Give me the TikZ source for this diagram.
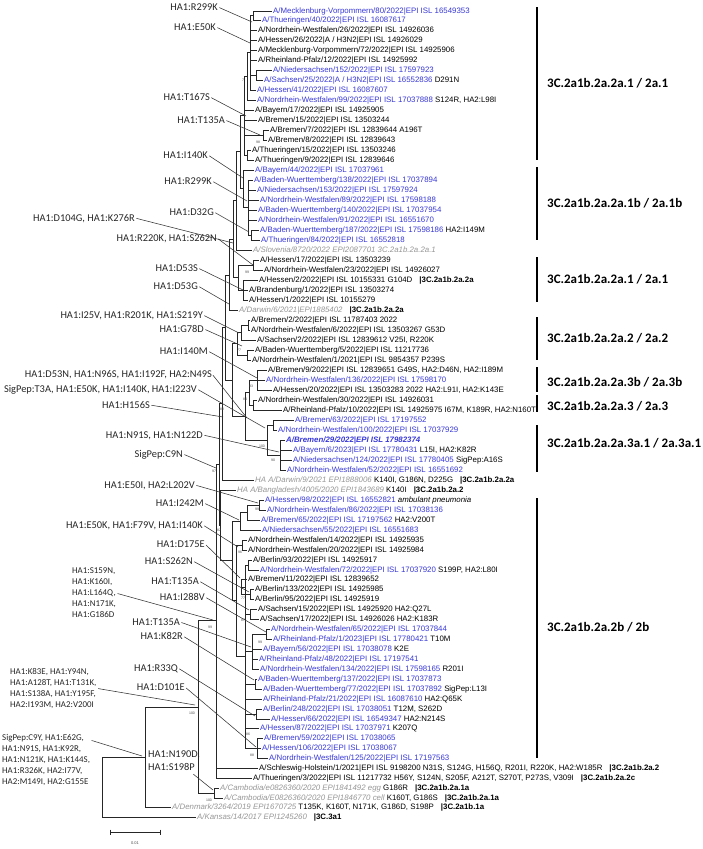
\documentclass[tikz,border=0pt]{standalone}
\usepackage{fontspec}
\setmainfont{Liberation Sans}
\newfontfamily\carlito{Carlito}
\definecolor{tipblue}{RGB}{55,55,215}
\definecolor{tipgray}{RGB}{150,150,150}
\newcommand{\TipB}[1]{\textcolor{tipblue}{#1}}
\newcommand{\TipG}[1]{\textcolor{tipgray}{\itshape #1}}
\newcommand{\TipC}[1]{\hspace{7pt}\textbf{#1}}
\begin{document}
\begin{tikzpicture}[x=1pt,y=-1pt,
  leaf/.style={anchor=west, xshift=-1.5pt, inner xsep=1.5pt, inner ysep=0pt, text height=5.7pt, text depth=0pt, font=\fontsize{7.86}{9}\selectfont},
  mutlab/.style={anchor=east, inner sep=0pt, text height=6.7pt, text depth=0pt, font=\carlito\fontsize{10.4}{12}\selectfont, text=black!85},
  mutblock/.style={anchor=north west, align=left, inner sep=0pt, font=\carlito\fontsize{8.9}{11}\selectfont, text=black!85},
  mutbig/.style={anchor=north west, align=left, inner sep=0pt, font=\carlito\fontsize{10.4}{13}\selectfont, text=black!85},
  cladelab/.style={anchor=west, inner sep=0pt, font=\carlito\bfseries\fontsize{13}{15}\selectfont},
  cladebar/.style={line width=2.2pt},
  treeline/.style={line width=0.7pt, draw=black!85},
  ptrline/.style={line width=0.55pt, draw=black!80, shorten <=1.5pt},
  bsval/.style={inner sep=0pt, font=\fontsize{3.5}{4}\selectfont, text=black!70}
]
\useasboundingbox (0,0) rectangle (702,849);

% ---------------- tips ----------------
\node[leaf] (t1) at (273,11) {\TipB{A/Mecklenburg-Vorpommern/80/2022|EPI ISL 16549353}};
\node[leaf] (t2) at (262,20) {\TipB{A/Thueringen/40/2022|EPI ISL 16087617}};
\node[leaf] (t3) at (258,30) {A/Nordrhein-Westfalen/26/2022|EPI ISL 14926036};
\node[leaf] (t4) at (258,40) {A/Hessen/26/2022|A / H3N2|EPI ISL 14926029};
\node[leaf] (t5) at (258,50) {A/Mecklenburg-Vorpommern/72/2022|EPI ISL 14925906};
\node[leaf] (t6) at (258,60) {A/Rheinland-Pfalz/12/2022|EPI ISL 14925992};
\node[leaf] (t7) at (273,70) {\TipB{A/Niedersachsen/152/2022|EPI ISL 17597923}};
\node[leaf] (t8) at (264,80) {\TipB{A/Sachsen/25/2022|A / H3N2|EPI ISL 16552836} D291N};
\node[leaf] (t9) at (257,90) {\TipB{A/Hessen/41/2022|EPI ISL 16087607}};
\node[leaf] (t10) at (257,100) {\TipB{A/Nordrhein-Westfalen/99/2022|EPI ISL 17037888} S124R, HA2:L98I};
\node[leaf] (t11) at (255,110) {A/Bayern/17/2022|EPI ISL 14925905};
\node[leaf] (t12) at (258,120) {A/Bremen/15/2022|EPI ISL 13503244};
\node[leaf] (t13) at (270,130) {A/Bremen/7/2022|EPI ISL 12839644 A196T};
\node[leaf] (t14) at (268,140) {A/Bremen/8/2022|EPI ISL 12839643};
\node[leaf] (t15) at (252,150) {A/Thueringen/15/2022|EPI ISL 13503246};
\node[leaf] (t16) at (255,160) {A/Thueringen/9/2022|EPI ISL 12839646};
\node[leaf] (t17) at (255,170) {\TipB{A/Bayern/44/2022|EPI ISL 17037961}};
\node[leaf] (t18) at (254,180) {\TipB{A/Baden-Wuerttemberg/138/2022|EPI ISL 17037894}};
\node[leaf] (t19) at (257,190) {\TipB{A/Niedersachsen/153/2022|EPI ISL 17597924}};
\node[leaf] (t20) at (260,200) {\TipB{A/Nordrhein-Westfalen/89/2022|EPI ISL 17598188}};
\node[leaf] (t21) at (258,210) {\TipB{A/Baden-Wuerttemberg/140/2022|EPI ISL 17037954}};
\node[leaf] (t22) at (258,220) {\TipB{A/Nordrhein-Westfalen/91/2022|EPI ISL 16551670}};
\node[leaf] (t23) at (260,230) {\TipB{A/Baden-Wuerttemberg/187/2022|EPI ISL 17598186} HA2:I149M};
\node[leaf] (t24) at (261,240) {\TipB{A/Thueringen/84/2022|EPI ISL 16552818}};
\node[leaf] (t25) at (253,250) {\TipG{A/Slovenia/8720/2022 EPI2087701 3C.2a1b.2a.2a.1}};
\node[leaf] (t26) at (260,260) {A/Hessen/17/2022|EPI ISL 13503239};
\node[leaf] (t27) at (264,270) {A/Nordrhein-Westfalen/23/2022|EPI ISL 14926027};
\node[leaf] (t28) at (259,280) {A/Hessen/2/2022|EPI ISL 10155331 G104D\TipC{|3C.2a1b.2a.2a}};
\node[leaf] (t29) at (249,290) {A/Brandenburg/1/2022|EPI ISL 13503274};
\node[leaf] (t30) at (249,300) {A/Hessen/1/2022|EPI ISL 10155279};
\node[leaf] (t31) at (239,310) {\TipG{A/Darwin/6/2021|EPI1885402}\TipC{|3C.2a1b.2a.2a}};
\node[leaf] (t32) at (251,320) {A/Bremen/2/2022|EPI ISL 11787403 2022};
\node[leaf] (t33) at (251,330) {A/Nordrhein-Westfalen/6/2022|EPI ISL 13503267 G53D};
\node[leaf] (t34) at (257,340) {A/Sachsen/2/2022|EPI ISL 12839612 V25I, R220K};
\node[leaf] (t35) at (255,350) {A/Baden-Wuerttemberg/5/2022|EPI ISL 11217736};
\node[leaf] (t36) at (252,360) {A/Nordrhein-Westfalen/1/2021|EPI ISL 9854357 P239S};
\node[leaf] (t37) at (268,370) {A/Bremen/9/2022|EPI ISL 12839651 G49S, HA2:D46N, HA2:I189M};
\node[leaf] (t38) at (266,380) {\TipB{A/Nordrhein-Westfalen/136/2022|EPI ISL 17598170}};
\node[leaf] (t39) at (273,390) {A/Hessen/20/2022|EPI ISL 13503283 2022 HA2:L91I, HA2:K143E};
\node[leaf] (t40) at (258,400) {A/Nordrhein-Westfalen/30/2022|EPI ISL 14926031};
\node[leaf] (t41) at (283,410) {A/Rheinland-Pfalz/10/2022|EPI ISL 14925975 I67M, K189R, HA2:N160T};
\node[leaf] (t42) at (295,420) {\TipB{A/Bremen/63/2022|EPI ISL 17197552}};
\node[leaf] (t43) at (278,430) {\TipB{A/Nordrhein-Westfalen/100/2022|EPI ISL 17037929}};
\node[leaf] (t44) at (286,440) {\textcolor{tipblue}{\bfseries\itshape A/Bremen/29/2022|EPI ISL 17982374}};
\node[leaf] (t45) at (293,450) {\TipB{A/Bayern/6/2023|EPI ISL 17780431} L15I, HA2:K82R};
\node[leaf] (t46) at (293,460) {\TipB{A/Niedersachsen/124/2022|EPI ISL 17780405} SigPep:A16S};
\node[leaf] (t47) at (287,470) {\TipB{A/Nordrhein-Westfalen/52/2022|EPI ISL 16551692}};
\node[leaf] (t48) at (255,480) {\TipG{HA A/Darwin/9/2021 EPI1888006} K140I, G186N, D225G\TipC{|3C.2a1b.2a.2a}};
\node[leaf] (t49) at (237,490) {\TipG{HA A/Bangladesh/4005/2020 EPI1843689} K140I\TipC{|3C.2a1b.2a.2}};
\node[leaf] (t50) at (265,500) {\TipB{A/Hessen/98/2022|EPI ISL 16552821} \textit{ambulant pneumonia}};
\node[leaf] (t51) at (267,510) {\TipB{A/Nordrhein-Westfalen/86/2022|EPI ISL 17038136}};
\node[leaf] (t52) at (261,520) {\TipB{A/Bremen/65/2022|EPI ISL 17197562} HA2:V200T};
\node[leaf] (t53) at (262,530) {\TipB{A/Niedersachsen/55/2022|EPI ISL 16551683}};
\node[leaf] (t54) at (248,540) {A/Nordrhein-Westfalen/14/2022|EPI ISL 14925935};
\node[leaf] (t55) at (248,550) {A/Nordrhein-Westfalen/20/2022|EPI ISL 14925984};
\node[leaf] (t56) at (253,560) {A/Berlin/93/2022|EPI ISL 14925917};
\node[leaf] (t57) at (260,570) {\TipB{A/Nordrhein-Westfalen/72/2022|EPI ISL 17037920} S199P, HA2:L80I};
\node[leaf] (t58) at (248,579) {A/Bremen/11/2022|EPI ISL 12839652};
\node[leaf] (t59) at (255,589) {A/Berlin/133/2022|EPI ISL 14925985};
\node[leaf] (t60) at (255,599) {A/Berlin/95/2022|EPI ISL 14925919};
\node[leaf] (t61) at (258,609) {A/Sachsen/15/2022|EPI ISL 14925920 HA2:Q27L};
\node[leaf] (t62) at (260,619) {A/Sachsen/17/2022|EPI ISL 14926026 HA2:K183R};
\node[leaf] (t63) at (271,629) {\TipB{A/Nordrhein-Westfalen/65/2022|EPI ISL 17037844}};
\node[leaf] (t64) at (273,639) {\TipB{A/Rheinland-Pfalz/1/2023|EPI ISL 17780421} T10M};
\node[leaf] (t65) at (263,649) {\TipB{A/Bayern/56/2022|EPI ISL 17038078} K2E};
\node[leaf] (t66) at (259,659) {\TipB{A/Rheinland-Pfalz/48/2022|EPI ISL 17197541}};
\node[leaf] (t67) at (260,669) {\TipB{A/Nordrhein-Westfalen/134/2022|EPI ISL 17598165} R201I};
\node[leaf] (t68) at (258,679) {\TipB{A/Baden-Wuerttemberg/137/2022|EPI ISL 17037873}};
\node[leaf] (t69) at (263,689) {\TipB{A/Baden-Wuerttemberg/77/2022|EPI ISL 17037892} SigPep:L13I};
\node[leaf] (t70) at (263,699) {\TipB{A/Rheinland-Pfalz/21/2022|EPI ISL 16087610} HA2:Q65K};
\node[leaf] (t71) at (263,709) {\TipB{A/Berlin/248/2022|EPI ISL 17038051} T12M, S262D};
\node[leaf] (t72) at (271,719) {\TipB{A/Hessen/66/2022|EPI ISL 16549347} HA2:N214S};
\node[leaf] (t73) at (260,728) {\TipB{A/Hessen/87/2022|EPI ISL 17037971} K207Q};
\node[leaf] (t74) at (264,738) {\TipB{A/Bremen/59/2022|EPI ISL 17038065}};
\node[leaf] (t75) at (262,748) {\TipB{A/Hessen/106/2022|EPI ISL 17038067}};
\node[leaf] (t76) at (269,758) {\TipB{A/Nordrhein-Westfalen/125/2022|EPI ISL 17197563}};
\node[leaf] (t77) at (259,768) {A/Schleswig-Holstein/1/2021|EPI ISL 9198200 N31S, S124G, H156Q, R201I, R220K, HA2:W185R\TipC{|3C.2a1b.2a.2}};
\node[leaf] (t78) at (253,778) {A/Thueringen/3/2022|EPI ISL 11217732 H56Y, S124N, S205F, A212T, S270T, P273S, V309I\TipC{|3C.2a1b.2a.2c}};
\node[leaf] (t79) at (220,788) {\TipG{A/Cambodia/e0826360/2020 EPI1841492 egg} G186R\TipC{|3C.2a1b.2a.1a}};
\node[leaf] (t80) at (224,798) {\TipG{A/Cambodia/E0826360/2020 EPI1846770 cell} K160T, G186S\TipC{|3C.2a1b.2a.1a}};
\node[leaf] (t81) at (172,807) {\TipG{A/Denmark/3264/2019 EPI1670725} T135K, K160T, N171K, G186D, S198P\TipC{|3C.2a1b.1a}};
\node[leaf] (t82) at (197,817) {\TipG{A/Kansas/14/2017 EPI1245260}\TipC{|3C.3a1}};

% ---------------- internal nodes ----------------
\coordinate (n1) at (253,15.5);
\coordinate (n3) at (256,75);
\coordinate (n2) at (250,52);
\coordinate (n4) at (247,76);
\coordinate (n6) at (263,135);
\coordinate (n7) at (247,155);
\coordinate (n5) at (244,115);
\coordinate (m2) at (251,235);
\coordinate (m1) at (248,207);
\coordinate (m0) at (243,188);
\coordinate (k1) at (240,151);
\coordinate (k2) at (236,200);
\coordinate (p1) at (253,265);
\coordinate (p2) at (243,290);
\coordinate (p3) at (238,277);
\coordinate (k3) at (233,239);
\coordinate (k4) at (229,275);
\coordinate (q1) at (248,325);
\coordinate (q2) at (241,332);
\coordinate (q3) at (247,355);
\coordinate (q4) at (237,343);
\coordinate (r1) at (257,380);
\coordinate (r2) at (253,405);
\coordinate (r3) at (249,392);
\coordinate (s1) at (273,425);
\coordinate (s2) at (280,455);
\coordinate (s3) at (267,440);
\coordinate (r4) at (245,416);
\coordinate (q5) at (232,380);
\coordinate (U) at (225,327);
\coordinate (G) at (222,403);
\coordinate (Pa1) at (259,505);
\coordinate (Pa) at (247,512);
\coordinate (P1) at (240,521);
\coordinate (P2a) at (242,545);
\coordinate (Q1) at (248,565);
\coordinate (Q2a) at (250,594);
\coordinate (Q2) at (241,587);
\coordinate (Q3) at (250,614);
\coordinate (Q4a) at (266,634);
\coordinate (Q4) at (252,651);
\coordinate (Q5) at (255,684);
\coordinate (Q6) at (256,714);
\coordinate (Q7) at (257,748);
\coordinate (P2b) at (245,656);
\coordinate (P2) at (236,600);
\coordinate (P) at (232,560);
\coordinate (H) at (220,525);
\coordinate (E) at (219,464);
\coordinate (D) at (216,620);
\coordinate (Cam) at (214,793);
\coordinate (C) at (198,707);
\coordinate (B) at (145,757);
\coordinate (A) at (102,787);

\foreach \p/\c in {n1/t1,n1/t2,n3/t7,n3/t8,
  n2/n1,n2/t3,n2/t4,n2/t5,n2/t6,n2/n3,n2/t9,
  n4/n2,n4/t10,n6/t13,n6/t14,n7/t15,n7/t16,
  n5/n4,n5/t11,n5/t12,n5/n6,n5/n7,
  m2/t23,m2/t24,m1/t18,m1/t19,m1/t20,m1/t21,m1/t22,m1/m2,
  m0/t17,m0/m1,k1/n5,k1/m0,k2/k1,k2/t25,
  p1/t26,p1/t27,p2/t28,p2/t29,p2/t30,p3/p1,p3/p2,
  k3/k2,k3/p3,k4/k3,k4/t31,
  q1/t32,q1/t33,q2/q1,q2/t34,q3/t35,q3/t36,q4/q2,q4/q3,
  r1/t37,r1/t38,r1/t39,r2/t40,r2/t41,r3/r1,r3/r2,
  s1/t42,s1/t43,s2/t44,s2/t45,s2/t46,s2/t47,s3/s1,s3/s2,
  r4/r3,r4/s3,q5/q4,q5/r4,U/k4,U/q5,G/U,G/t48,
  Pa1/t50,Pa1/t51,Pa/Pa1,Pa/t52,P1/Pa,P1/t53,
  P2a/t54,P2a/t55,Q1/t56,Q1/t57,Q2a/t59,Q2a/t60,Q2/t58,Q2/Q2a,
  Q3/t61,Q3/t62,Q4a/t63,Q4a/t64,Q4/Q4a,Q4/t65,Q4/t66,Q4/t67,
  Q5/t68,Q5/t69,Q6/t71,Q6/t72,Q7/t74,Q7/t75,Q7/t76,
  P2b/Q1,P2b/Q2,P2b/Q3,P2b/Q4,P2b/Q5,P2b/t70,P2b/Q6,P2b/t73,P2b/Q7,
  P2/P2a,P2/P2b,P/P1,P/P2,H/t49,H/P,E/G,E/H,
  D/E,D/t77,D/t78,Cam/t79,Cam/t80,C/D,C/Cam,B/C,B/t81,A/B,A/t82}
  \draw[treeline] (\p) |- (\c);

% ---------------- bootstrap values ----------------
\foreach \x/\y/\v in {243/80/7,258/142/98,247/272/99,239/350/77,251/386/93,245/399/84,222/409/88,262/446/100,273/460/90,214/471/97,257/509/99,219/530/82,240/552/96,243/598/77,243/620/87,260/642/99,210/627/99,192/713/100,248/734/86,252/755/88,209/800/100}
  \node[bsval] at (\x,\y) {\v};

% ---------------- mutation labels ----------------
\node[mutlab] (L1) at (218,7) {HA1:R299K};
\node[mutlab] (L2) at (216,27) {HA1:E50K};
\node[mutlab] (L3) at (210,97) {HA1:T167S};
\node[mutlab] (L4) at (225,120) {HA1:T135A};
\node[mutlab] (L5) at (208,155) {HA1:I140K};
\node[mutlab] (L6) at (212,181) {HA1:R299K};
\node[mutlab] (L7) at (214,212) {HA1:D32G};
\node[mutlab] (L8) at (135,218) {HA1:D104G, HA1:K276R};
\node[mutlab] (L9) at (217,238) {HA1:R220K, HA1:S262N};
\node[mutlab] (L10) at (198,268) {HA1:D53S};
\node[mutlab] (L11) at (198,286) {HA1:D53G};
\node[mutlab] (L12) at (203,315) {HA1:I25V, HA1:R201K, HA1:S219Y};
\node[mutlab] (L13) at (204,329) {HA1:G78D};
\node[mutlab] (L14) at (208,351) {HA1:I140M};
\node[mutlab] (L15) at (212,374) {HA1:D53N, HA1:N96S, HA1:I192F, HA2:N49S};
\node[mutlab] (L16) at (197,389) {SigPep:T3A, HA1:E50K, HA1:I140K, HA1:I223V};
\node[mutlab] (L17) at (150,405) {HA1:H156S};
\node[mutlab] (L18) at (203,435) {HA1:N91S, HA1:N122D};
\node[mutlab] (L19) at (183,454) {SigPep:C9N};
\node[mutlab] (L20) at (195,485) {HA1:E50I, HA2:L202V};
\node[mutlab] (L21) at (204,503) {HA1:I242M};
\node[mutlab] (L22) at (203,525) {HA1:E50K, HA1:F79V, HA1:I140K};
\node[mutlab] (L23) at (205,544) {HA1:D175E};
\node[mutlab] (L24) at (193,561) {HA1:S262N};
\node[mutlab] (L25) at (199,581) {HA1:T135A};
\node[mutlab] (L26) at (205,597) {HA1:I288V};
\node[mutlab] (L27) at (180,622) {HA1:T135A};
\node[mutlab] (L28) at (183,636) {HA1:K82R};
\node[mutlab] (L29) at (178,668) {HA1:R33Q};
\node[mutlab] (L30) at (185,687) {HA1:D101E};
\node[mutblock] (L31) at (72,568) {HA1:S159N,\\HA1:K160I,\\HA1:L164Q,\\HA1:N171K,\\HA1:G186D};
\node[mutblock] (L32) at (10,668) {HA1:K83E, HA1:Y94N,\\HA1:A128T, HA1:T131K,\\HA1:S138A, HA1:Y195F,\\HA2:I193M, HA2:V200I};
\node[mutblock] (L33) at (2,734) {SigPep:C9Y, HA1:E62G,\\HA1:N91S, HA1:K92R,\\HA1:N121K, HA1:K144S,\\HA1:R326K, HA2:I77V,\\HA2:M149I, HA2:G155E};
\node[mutbig] (L34) at (148,751) {HA1:N190D,\\HA1:S198P};

\coordinate (e1) at (252,22);   \coordinate (e2) at (250,43);
\coordinate (e3) at (246,116);  \coordinate (e4) at (260,135);
\coordinate (e5) at (243,178);  \coordinate (e6) at (247,201);
\coordinate (e7) at (249,232);  \coordinate (e8) at (233,243);
\coordinate (e9) at (253,265);  \coordinate (e10) at (243,290);
\coordinate (e11) at (229,304); \coordinate (e12) at (239,333);
\coordinate (e13) at (242,346); \coordinate (e14) at (257,378);
\coordinate (e15) at (247,418); \coordinate (e16) at (265,428);
\coordinate (e17) at (223,417); \coordinate (e18) at (279,452);
\coordinate (e19) at (216,468); \coordinate (e20) at (258,503);
\coordinate (e21) at (239,520); \coordinate (e22) at (238,547);
\coordinate (e23) at (240,578); \coordinate (e24) at (249,592);
\coordinate (e25) at (249,610); \coordinate (e26) at (266,632);
\coordinate (e27) at (251,647); \coordinate (e28) at (254,680);
\coordinate (e29) at (255,716); \coordinate (e30) at (256,747);
\coordinate (e31) at (213,620); \coordinate (e32) at (195,705);
\coordinate (e33) at (142,756); \coordinate (e34) at (213,790);

\foreach \i in {1,...,30} \draw[ptrline] (L\i.east) -- (e\i);
\draw[ptrline] (L31.east) -- (e31);
\draw[ptrline] (L32.east) -- (e32);
\draw[ptrline] ([yshift=-6pt]L33.north east) -- (e33);
\draw[ptrline] ([xshift=-8pt,yshift=-2pt]L34.south east) -- (e34);

% ---------------- clade bars ----------------
\draw[cladebar] (537,7) -- (537,160);
\draw[cladebar] (537,167) -- (537,240);
\draw[cladebar] (537,257) -- (537,302);
\draw[cladebar] (537,317) -- (537,360);
\draw[cladebar] (537,367) -- (537,392);
\draw[cladebar] (537,395) -- (537,412);
\draw[cladebar] (537,425) -- (537,472);
\draw[cladebar] (537,498) -- (537,758);
\node[cladelab] (c1) at (547,83) {3C.2a1b.2a.2a.1 / 2a.1};
\node[cladelab] (c2) at (547,203) {3C.2a1b.2a.2a.1b / 2a.1b};
\node[cladelab] (c3) at (547,279) {3C.2a1b.2a.2a.1 / 2a.1};
\node[cladelab] (c4) at (547,338) {3C.2a1b.2a.2a.2 / 2a.2};
\node[cladelab] (c5) at (547,382) {3C.2a1b.2a.2a.3b / 2a.3b};
\node[cladelab] (c6) at (547,406) {3C.2a1b.2a.2a.3 / 2a.3};
\node[cladelab] (c7) at (547,443) {3C.2a1b.2a.2a.3a.1 / 2a.3a.1};
\node[cladelab] (c8) at (547,627) {3C.2a1b.2a.2b / 2b};

% ---------------- scale bar ----------------
\coordinate (sb1) at (110,832);
\coordinate (sb2) at (160,832);
\draw[treeline] (sb1) -- (sb2);
\draw[treeline] ([yshift=2.5pt]sb1) -- ([yshift=-2.5pt]sb1);
\draw[treeline] ([yshift=2.5pt]sb2) -- ([yshift=-2.5pt]sb2);
\node[bsval, font=\fontsize{4}{5}\selectfont] (sbl) at (135,843) {0.01};
\end{tikzpicture}
\end{document}
